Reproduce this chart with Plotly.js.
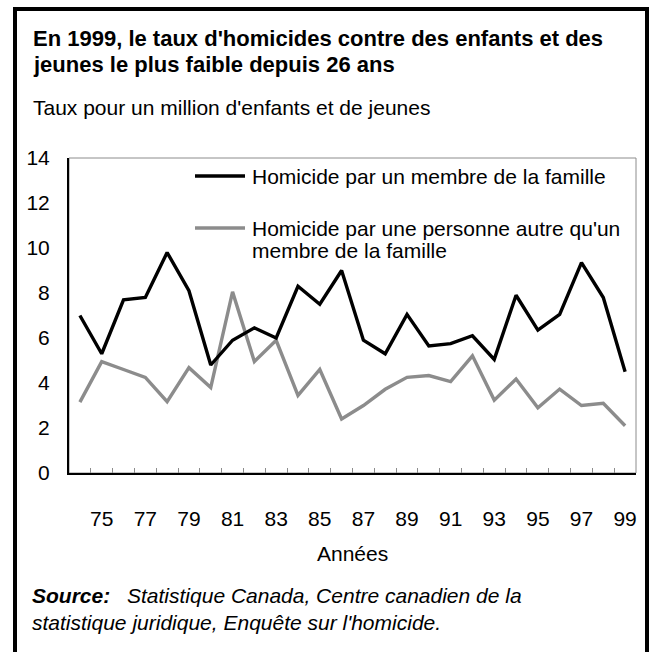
<!DOCTYPE html>
<html>
<head>
<meta charset="utf-8">
<script src="https://cdn.plot.ly/plotly-3.0.1.min.js"></script>
<style>
  html, body { margin: 0; padding: 0; background: #fff; }
  #wrap { position: relative; width: 649px; height: 652px; overflow: hidden; }
  #chart { width: 649px; height: 652px; }
  #frame { position: absolute; left: 13px; top: 7px; width: 636px; height: 720px;
           box-sizing: border-box; border: 4px solid #000; pointer-events: none; }
</style>
</head>
<body>
<div id="wrap"><div id="chart"></div><div id="frame"></div></div>
<script>
// ---- data ----
const years = [1974,1975,1976,1977,1978,1979,1980,1981,1982,1983,1984,1985,1986,
               1987,1988,1989,1990,1991,1992,1993,1994,1995,1996,1997,1998,1999];
const familyRates = [7.0,5.3,7.7,7.8,9.8,8.1,4.8,5.9,6.45,6.0,8.3,7.5,9.0,
                     5.9,5.3,7.05,5.65,5.75,6.1,5.05,7.9,6.35,7.05,9.35,7.8,4.5];
const otherRates  = [3.15,4.95,4.6,4.25,3.17,4.68,3.8,8.05,4.95,5.9,3.45,4.6,2.4,
                     3.0,3.72,4.25,4.33,4.06,5.21,3.24,4.18,2.9,3.73,3.0,3.1,2.1];
const seriesNames = ["Homicide par un membre de la famille",
                     "Homicide par une personne autre qu'un<br>membre de la famille"];
const seriesColors = ["#000000", "#8c8c8c"];
const xTickYears  = [1975,1977,1979,1981,1983,1985,1987,1989,1991,1993,1995,1997,1999];
const xTickLabels = ["75","77","79","81","83","85","87","89","91","93","95","97","99"];
const yTickVals   = [0,2,4,6,8,10,12,14];

const titleLines = ["En 1999, le taux d'homicides contre des enfants et des",
                    "jeunes le plus faible depuis 26 ans"];
const subtitle = "Taux pour un million d'enfants et de jeunes";
const xTitle = "Années";
const sourceLabel = "Source:";
const sourceLines = ["Statistique Canada, Centre canadien de la",
                     "statistique juridique, Enquête sur l'homicide."];

// ---- layout helpers (pixel -> paper) ----
const W = 649, H = 652;
const PL = 69, PR = 636, PT = 158, PB = 473;
const px = x => (x - PL) / (PR - PL);
const py = y => (PB - y) / (PB - PT);
const FONT = "Liberation Sans, Arial, Helvetica, sans-serif";
const FS = 21;

const boundaries = years.slice(1).map(y => y - 0.5);

const traces = [
  {x: years, y: otherRates, type: 'scatter', mode: 'lines', name: seriesNames[1],
   line: {color: seriesColors[1], width: 3.4}, showlegend: false, hoverinfo: 'skip'},
  {x: years, y: familyRates, type: 'scatter', mode: 'lines', name: seriesNames[0],
   line: {color: seriesColors[0], width: 3.4}, showlegend: false, hoverinfo: 'skip'}
];

function ann(text, x, y, size, opts) {
  return Object.assign({
    text: text, xref: 'paper', yref: 'paper', x: px(x), y: py(y),
    xanchor: 'left', yanchor: 'middle', showarrow: false,
    font: {family: FONT, size: size, color: '#000'}
  }, opts || {});
}

const annotations = [
  ann('<b>' + titleLines[0] + '</b>', 31, 38, 22),
  ann('<b>' + titleLines[1] + '</b>', 31, 65, 22),
  ann(subtitle, 31, 108, FS),
  ann(xTitle, 352, 553, FS, {xanchor: 'center'}),
  ann('<b><i>' + sourceLabel + '</i></b>', 30, 595, FS),
  ann('<i>' + sourceLines[0] + '</i>', 125, 595, FS),
  ann('<i>' + sourceLines[1] + '</i>', 30, 622, FS)
];

// legend (custom)
const legendRows = [[176], [228, 250]];
const shapes = [
  {type: 'rect', xref: 'paper', yref: 'paper', x0: 0, x1: 1, y0: 0, y1: 1,
   line: {color: '#8c8c8c', width: 1}, layer: 'below'}
];
seriesNames.forEach((nm, i) => {
  const parts = nm.split('<br>');
  const rows = legendRows[i];
  shapes.push({type: 'line', xref: 'paper', yref: 'paper',
               x0: px(195), x1: px(245), y0: py(rows[0]), y1: py(rows[0]),
               line: {color: seriesColors[i], width: 3.4}});
  parts.forEach((p, j) => annotations.push(ann(p, 250, rows[j], FS)));
});

const layout = {
  width: W, height: H,
  margin: {l: PL, r: W - PR, t: PT, b: H - PB, pad: 0},
  paper_bgcolor: '#fff', plot_bgcolor: '#fff',
  font: {family: FONT, size: FS, color: '#000'},
  showlegend: false,
  xaxis: {
    range: [years[0] - 0.5, years[years.length - 1] + 0.5],
    tickmode: 'array', tickvals: xTickYears, ticktext: xTickLabels,
    ticks: '', ticklabelstandoff: 26,
    showline: true, linecolor: '#000', linewidth: 2,
    showgrid: false, zeroline: false,
    tickfont: {family: FONT, size: FS, color: '#000'},
    minor: {tickmode: 'array', tickvals: boundaries, ticks: 'inside',
            ticklen: 5, tickwidth: 1, tickcolor: '#8c8c8c', showgrid: false}
  },
  yaxis: {
    range: [0, 14], tickmode: 'array', tickvals: yTickVals,
    ticks: '', ticklabelstandoff: 13,
    showline: true, linecolor: '#000', linewidth: 2,
    showgrid: false, zeroline: false,
    tickfont: {family: FONT, size: FS, color: '#000'}
  },
  shapes: shapes,
  annotations: annotations
};

Plotly.newPlot('chart', traces, layout, {displayModeBar: false, staticPlot: true});
</script>
</body>
</html>
